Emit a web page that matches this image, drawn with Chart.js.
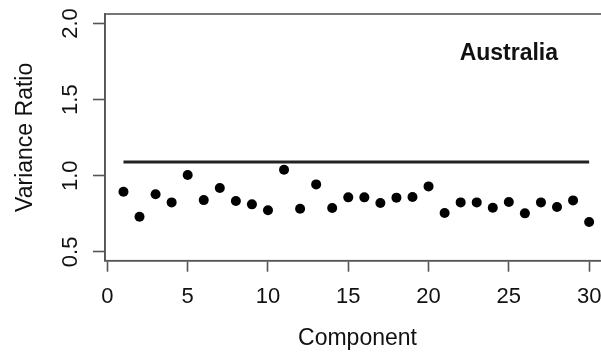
<!DOCTYPE html>
<html>
<head>
<meta charset="utf-8">
<script src="https://cdn.jsdelivr.net/npm/chart.js@4"></script>
<style>
  html, body { margin: 0; padding: 0; background: #fff; overflow: hidden; }
  #wrap { width: 620px; height: 354px; }
</style>
</head>
<body>
<div id="wrap"><canvas id="c" width="620" height="354"></canvas></div>
<script>
// Variance ratio per principal component
const components = [1,2,3,4,5,6,7,8,9,10,11,12,13,14,15,16,17,18,19,20,21,22,23,24,25,26,27,28,29,30];
const varianceRatio = [0.895,0.731,0.878,0.825,1.005,0.840,0.919,0.834,0.812,0.773,
                       1.039,0.783,0.943,0.788,0.858,0.858,0.821,0.856,0.860,0.930,
                       0.755,0.825,0.825,0.790,0.827,0.753,0.825,0.795,0.838,0.696];
// Reference level drawn across the components
const refLineX = [1, 30];
const refLineY = [1.09, 1.09];
// Axis ticks
const xTickValues = [0, 5, 10, 15, 20, 25, 30];
const yTickValues = [0.5, 1.0, 1.5, 2.0];
const yTickLabels = ['0.5', '1.0', '1.5', '2.0'];
const panelLabel = 'Australia';

const FONT = '"Liberation Sans", Arial, Helvetica, sans-serif';
const INK = '#111';
const AXIS = '#555';

const frame = {
  id: 'frame',
  afterDraw(chart) {
    const {ctx, chartArea: a} = chart;
    ctx.save();
    ctx.strokeStyle = AXIS;
    ctx.lineWidth = 1.6;
    ctx.strokeRect(a.left, a.top, a.right - a.left, a.bottom - a.top);
    ctx.restore();
  }
};

const panelText = {
  id: 'panelText',
  afterDatasetsDraw(chart) {
    const {ctx, scales: {x, y}} = chart;
    ctx.save();
    ctx.font = 'bold 23px ' + FONT;
    ctx.fillStyle = INK;
    ctx.textAlign = 'center';
    ctx.textBaseline = 'middle';
    ctx.fillText(panelLabel, x.getPixelForValue(25), y.getPixelForValue(1.8));
    ctx.restore();
  }
};

new Chart(document.getElementById('c'), {
  data: {
    datasets: [
      {
        type: 'line',
        data: refLineX.map((v, i) => ({x: v, y: refLineY[i]})),
        borderColor: '#222',
        borderWidth: 3,
        pointRadius: 0,
        fill: false
      },
      {
        type: 'scatter',
        data: components.map((c, i) => ({x: c, y: varianceRatio[i]})),
        backgroundColor: '#000',
        borderWidth: 0,
        pointRadius: 5
      }
    ]
  },
  options: {
    responsive: false,
    animation: false,
    events: [],
    layout: { padding: { top: 14, right: 10, left: 0, bottom: 0 } },
    plugins: { legend: { display: false }, tooltip: { enabled: false } },
    scales: {
      x: {
        type: 'linear',
        min: -0.15,
        max: 31.3,
        afterBuildTicks(s) { s.ticks = xTickValues.map(v => ({value: v})); },
        afterFit(s) { s.height = 93.3; s.paddingLeft = 0; s.paddingRight = 0; },
        grid: { drawOnChartArea: false, drawTicks: true, tickLength: 11, tickColor: AXIS, tickWidth: 1.6 },
        border: { display: true, color: AXIS, width: 1.6 },
        ticks: { color: INK, font: { family: FONT, size: 22 }, padding: 12, maxRotation: 0 },
        title: { display: true, text: 'Component', color: INK, font: { family: FONT, size: 23 }, padding: { top: 0, bottom: 2 } }
      },
      y: {
        type: 'linear',
        min: 0.442,
        max: 2.062,
        afterBuildTicks(s) { s.ticks = yTickValues.map(v => ({value: v})); },
        afterFit(s) { s.width = 105; s.paddingTop = 0; s.paddingBottom = 0; },
        grid: { drawOnChartArea: false, drawTicks: true, tickLength: 12, tickColor: AXIS, tickWidth: 1.6 },
        border: { display: true, color: AXIS, width: 1.6 },
        ticks: {
          color: INK, font: { family: FONT, size: 22 }, padding: 7,
          minRotation: 90, maxRotation: 90, crossAlign: 'center',
          callback(v) { const i = yTickValues.indexOf(v); return i >= 0 ? yTickLabels[i] : ''; }
        },
        title: { display: true, text: 'Variance Ratio', color: INK, font: { family: FONT, size: 23 }, padding: { top: 12, bottom: 0 } }
      }
    }
  },
  plugins: [frame, panelText]
});
</script>
</body>
</html>
